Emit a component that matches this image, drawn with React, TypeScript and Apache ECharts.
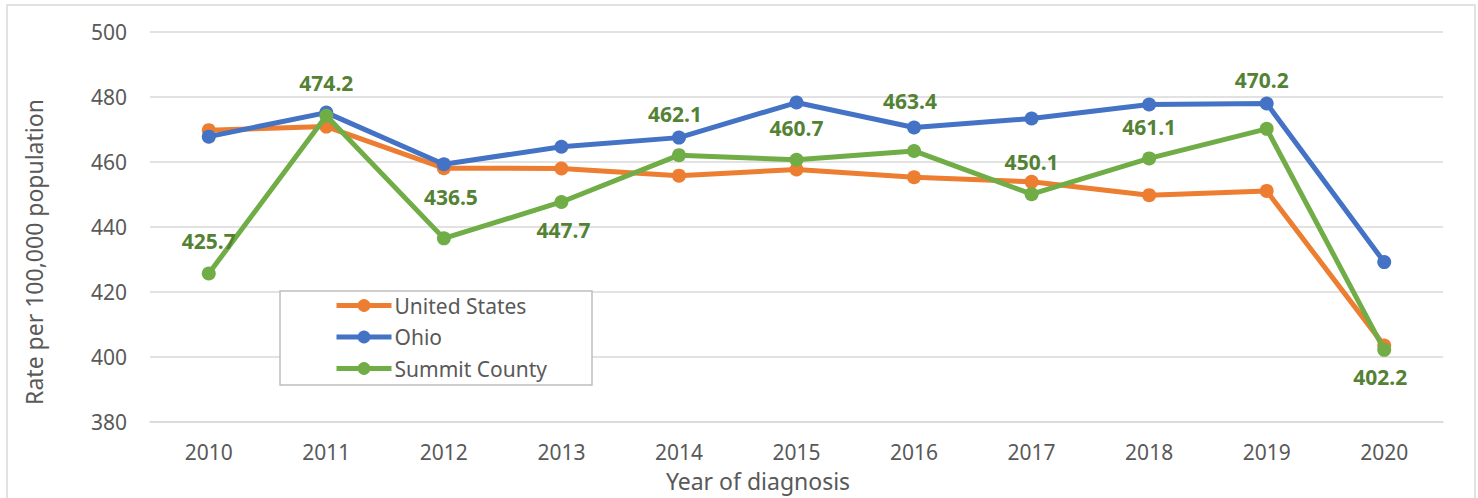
import React, { useEffect, useRef } from "react";
import * as echarts from "echarts";

const years = ["2010", "2011", "2012", "2013", "2014", "2015", "2016", "2017", "2018", "2019", "2020"];
const usValues = [469.8, 470.9, 458.1, 458.0, 455.8, 457.7, 455.3, 453.9, 449.8, 451.1, 403.5];
const ohioValues = [467.8, 475.2, 459.3, 464.7, 467.5, 478.3, 470.6, 473.4, 477.7, 478.0, 429.2];
const summitValues = [425.7, 474.2, 436.5, 447.7, 462.1, 460.7, 463.4, 450.1, 461.1, 470.2, 402.2];

const xAxisTitle = "Year of diagnosis";
const yAxisTitle = "Rate per 100,000 population";

// label placement (dx, dy relative to point) for Summit County data labels
const summitLabelOffsets: [number, number][] = [
  [0, -32], [0, -33], [7, -41], [2, 28], [-4, -41], [0, -32],
  [-4, -50], [0, -32], [0, -31], [-5, -49], [-4, 27],
];

const FONT = "'Noto Sans', 'Open Sans', sans-serif";
const TXT = "#595959";

export default function App() {
  const ref = useRef<HTMLDivElement>(null);
  useEffect(() => {
    document.body.style.margin = "0";
    const chart = echarts.init(ref.current!, null, { renderer: "svg" });
    const mk = (name: string, color: string, data: any[], z: number) => ({
      name,
      type: "line",
      data,
      symbol: "circle",
      symbolSize: 14,
      z,
      itemStyle: { color },
      lineStyle: { color, width: 5 },
      emphasis: { disabled: true },
    });
    chart.setOption({
      animation: false,
      textStyle: { fontFamily: FONT },
      grid: { left: 150, right: 35, top: 32, bottom: 76, containLabel: false },
      graphic: [
        {
          type: "rect",
          shape: { x: 7, y: 5, width: 1468, height: 500 },
          style: { fill: "none", stroke: "#d9d9d9", lineWidth: 1.5 },
          silent: true,
          z: -10,
        },
        {
          type: "rect",
          shape: { x: 280, y: 291, width: 312, height: 94 },
          style: { fill: "#ffffff", stroke: "#bfbfbf", lineWidth: 1.5 },
          silent: true,
          z: 50,
        },
        {
          type: "text",
          x: 758,
          y: 481,
          style: {
            text: xAxisTitle,
            fill: TXT,
            font: `23px ${FONT}`,
            align: "center",
            verticalAlign: "middle",
          },
          silent: true,
        },
        {
          type: "text",
          x: 34,
          y: 252,
          rotation: Math.PI / 2,
          style: {
            text: yAxisTitle,
            fill: TXT,
            font: `23px ${FONT}`,
            align: "center",
            verticalAlign: "middle",
          },
          silent: true,
        },
      ],
      legend: {
        orient: "vertical",
        left: 334,
        top: 295,
        itemWidth: 55,
        itemHeight: 16,
        itemGap: 10.5,
        padding: 0,
        z: 60,
        lineStyle: { width: 5 },
        textStyle: { fontSize: 21, color: TXT, fontFamily: FONT, padding: [0, 0, 0, -2] },
        data: ["United States", "Ohio", "Summit County"],
      },
      xAxis: {
        type: "category",
        data: years,
        boundaryGap: true,
        axisLine: { lineStyle: { color: "#d9d9d9", width: 1.5 } },
        axisTick: { show: false },
        axisLabel: { fontSize: 21, color: TXT, margin: 19, fontFamily: FONT },
      },
      yAxis: {
        type: "value",
        min: 380,
        max: 500,
        interval: 20,
        axisLine: { show: false },
        axisTick: { show: false },
        splitLine: { lineStyle: { color: "#d9d9d9", width: 1.5 } },
        axisLabel: { fontSize: 21, color: TXT, margin: 23, fontFamily: FONT },
      },
      series: [
        mk("United States", "#ED7D31", usValues, 2),
        mk("Ohio", "#4472C4", ohioValues, 3),
        {
          ...mk(
            "Summit County",
            "#70AD47",
            summitValues.map((v, i) => ({ value: v, label: { offset: summitLabelOffsets[i] } })),
            4
          ),
          label: {
            show: true,
            position: "inside",
            fontSize: 21,
            fontWeight: "bold",
            color: "#548235",
            fontFamily: FONT,
            formatter: (p: any) => Number(p.value).toFixed(1),
          },
        },
      ],
    });
    return () => chart.dispose();
  }, []);
  return <div ref={ref} style={{ width: 1478, height: 498 }} />;
}
